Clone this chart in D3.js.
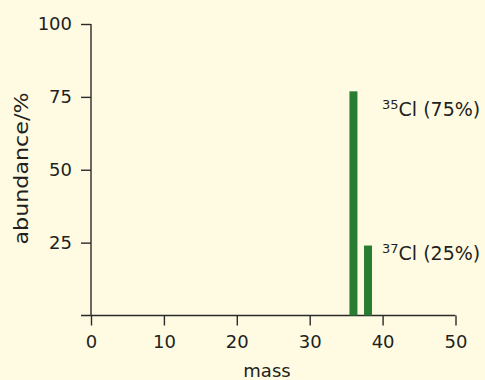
<!DOCTYPE html>
<html><head><meta charset="utf-8">
<script src="https://cdn.jsdelivr.net/npm/d3@7"></script>
<style>
html,body{margin:0;padding:0;background:#fefbe2;}
svg{display:block;}
text{font-family:"DejaVu Sans",sans-serif;fill:#231f20;}
</style></head>
<body><svg id="c" width="485" height="380"></svg>
<script>
const masses = [36, 38];
const abundances = [76.9, 24];
const labelIso = ["35", "37"];
const labelText = ["Cl (75%)", "Cl (25%)"];
const xTicks = [0, 10, 20, 30, 40, 50];
const yTicks = [25, 50, 75, 100];

const svg = d3.select("#c");
const x = d3.scaleLinear().domain([0, 50]).range([91, 455.5]);
const y = d3.scaleLinear().domain([0, 100]).range([315.5, 24]);
const ink = "#2b2b2b";
const font = '"DejaVu Sans",sans-serif';

// x axis
const xa = svg.append("g").attr("transform", `translate(0,${y(0)})`)
  .call(d3.axisBottom(x).tickValues(xTicks).tickSize(10).tickPadding(10).tickSizeOuter(0));
xa.select(".domain").attr("d", `M${x(0)-10},0H${x(50)}`);
// y axis
const ya = svg.append("g").attr("transform", `translate(${x(0)},0)`)
  .call(d3.axisLeft(y).tickValues(yTicks).tickSize(10).tickPadding(9).tickSizeOuter(0));
ya.select(".domain").attr("d", `M0,${y(0)}V${y(100)}`);
[xa, ya].forEach(a => {
  a.selectAll("path,line").attr("stroke", ink).attr("stroke-width", 1.4);
  a.selectAll("text").attr("font-size", 18).attr("fill", "#231f20")
   .style("font-family", font);
});
ya.selectAll("text").attr("dy", "0.3em");

// bars
const bw = 8;
svg.selectAll("rect.bar").data(masses).join("rect").attr("class", "bar")
  .attr("x", d => x(d) - bw/2).attr("width", bw)
  .attr("y", (d,i) => y(abundances[i]))
  .attr("height", (d,i) => y(0) - y(abundances[i]))
  .attr("fill", "#287d33");

// labels
const lx = x(d3.max(masses)) + 14;
const lbl = svg.selectAll("text.lbl").data(masses).join("text").attr("class", "lbl")
  .attr("x", lx)
  .attr("y", (d,i) => y(abundances[i]) + (i === 0 ? 25 : 14))
  .attr("font-size", 19);
lbl.append("tspan").attr("font-size", 13).attr("dy", -7).text((d,i) => labelIso[i]);
lbl.append("tspan").attr("dy", 7).text((d,i) => labelText[i]);

// axis titles
svg.append("text").attr("x", 267).attr("y", 377)
  .attr("text-anchor", "middle").attr("font-size", 18).text("mass");
svg.append("text").attr("transform", `translate(28,168.5) rotate(-90)`)
  .attr("text-anchor", "middle").attr("font-size", 20)
  .attr("textLength", 152).attr("lengthAdjust", "spacingAndGlyphs")
  .text("abundance/%");
</script></body></html>
